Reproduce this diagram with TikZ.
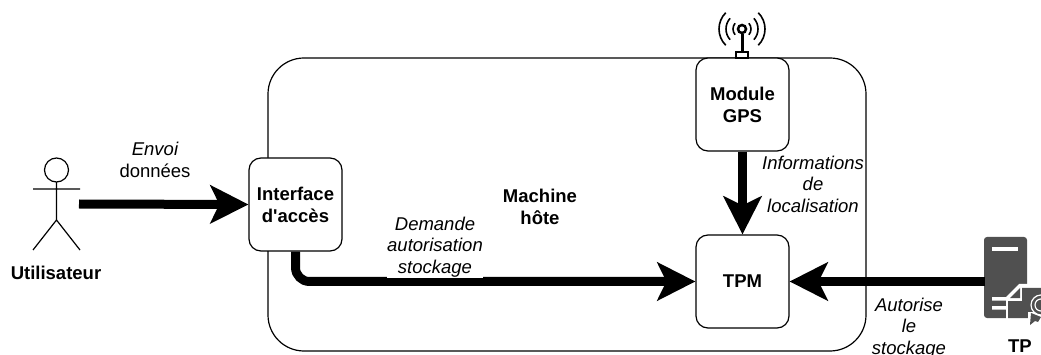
\documentclass[tikz,border=0pt]{standalone}
\usepackage{fontspec}
\setmainfont{Liberation Sans}
\newfontfamily\plainquote{Liberation Sans}
\usetikzlibrary{arrows.meta}
\tikzset{
  box/.style={draw, line width=1.2pt, fill=white, rounded corners=12pt, minimum width=93pt, minimum height=93pt, align=center, font=\fontsize{18.5}{22}\selectfont\bfseries, inner sep=0pt},
  lbl/.style={align=center, font=\fontsize{18.5}{21.5}\selectfont\itshape, inner sep=0pt},
  flow/.style={line width=9pt, -{Stealth[length=38pt,width=38pt,inset=9pt]}},
  who/.style={font=\fontsize{18.5}{22}\selectfont\bfseries, inner sep=0pt}
}
\definecolor{srvgray}{HTML}{505050}
\begin{document}
\begin{tikzpicture}[x=1pt, y=-1pt]
  \useasboundingbox (0, 0) rectangle (1041, 355);
  \draw[line width=1.2pt, rounded corners=36pt] (268, 58) rectangle (866, 351);
  \node[who, align=center] (host) at (540, 207) {Machine\\hôte};
  % boxes
  \node[box] (iface) at (295.5, 204.5) {\raisebox{-1pt}{Interface}\\\raisebox{-1pt}{d{\plainquote\bfseries'}accès}};
  \node[box] (gps) at (742.5, 104.5) {\raisebox{-1pt}{Module}\\\raisebox{-1pt}{GPS}};
  \node[box] (tpm) at (742.5, 281.5) {TPM};
  % actor
  \draw[line width=1.2pt] (56.5, 170) circle (12)
        (56.5, 182) -- (56.5, 220) -- (33, 250)
        (56.5, 220) -- (80, 250)
        (33, 189) -- (80, 189);
  \coordinate (userout) at (79, 204);
  \node[who] (user) at (56, 273) {Utilisateur};
  % antenna
  \fill[white, draw=black, line width=1.2pt] (736, 52) rectangle (748, 58);
  \draw[line width=3pt] (742, 52) -- (742, 34);
  \draw[line width=2.5pt] (742, 29) circle (4);
  \foreach \r/\a in {9/40, 16/42, 23/45} {
    \draw[line width=1.6pt] (742, 29) ++(180-\a:\r) arc (180-\a:180+\a:\r);
    \draw[line width=1.6pt] (742, 29) ++(\a:\r) arc (\a:-\a:\r);
  }
  % server
  \coordinate (srv) at (985, 281.5);
  \fill[srvgray, rounded corners=3pt] (984, 318) -- (984, 237) -- (1027, 237) -- (1027, 318) -- cycle;
  \fill[white] (992, 247) rectangle (1018, 251);
  \fill[white] (1019, 284) -- (1041, 284) -- (1041, 326) -- (1006, 326) -- (1006, 297) -- cycle;
  \fill[white] (992, 297) rectangle (1008, 300.5)
               (992, 306) rectangle (1006, 309.5);
  \fill[srvgray] (1010, 298) -- (1020, 288) -- (1020, 298) -- cycle;
  \fill[srvgray] (1022, 288) -- (1041, 288) -- (1041, 318) -- (1008, 318) -- (1008, 301) -- (1022, 301) -- cycle;
  \fill[white] (1028, 312) -- (1041, 312) -- (1041, 326) -- (1028, 326) -- cycle;
  \fill[srvgray] (1031, 313) -- (1041, 317) -- (1038, 322) -- (1035, 321) -- (1030, 325) -- cycle;
  \draw[white, line width=1.2pt, fill=srvgray] (1041, 305) circle (10);
  \draw[white, line width=1.2pt] (1041, 305) circle (6);
  \node[who] (tp) at (1020, 346.5) {TP};
  % flows
  \draw[flow] (userout) -- (iface.west);
  \draw[flow, rounded corners=14pt] (iface.south) -- (295.5, 281.5) -- (tpm.west);
  \draw[flow] (gps.south) -- (tpm.north);
  \draw[flow] (srv) -- (tpm.east);
  % labels
  \node[lbl] (sent) at (155, 160) {Envoi\\\upshape données};
  \node[lbl, fill=white, minimum width=96pt, inner ysep=1pt] (ask) at (435, 247) {Demande\\autorisation\\stockage};
  \node[lbl] (info) at (813, 184) {Informations\\de\\localisation};
  \node[lbl] (ok) at (909, 328) {Autorise\\le\\stockage};
\end{tikzpicture}
\end{document}
